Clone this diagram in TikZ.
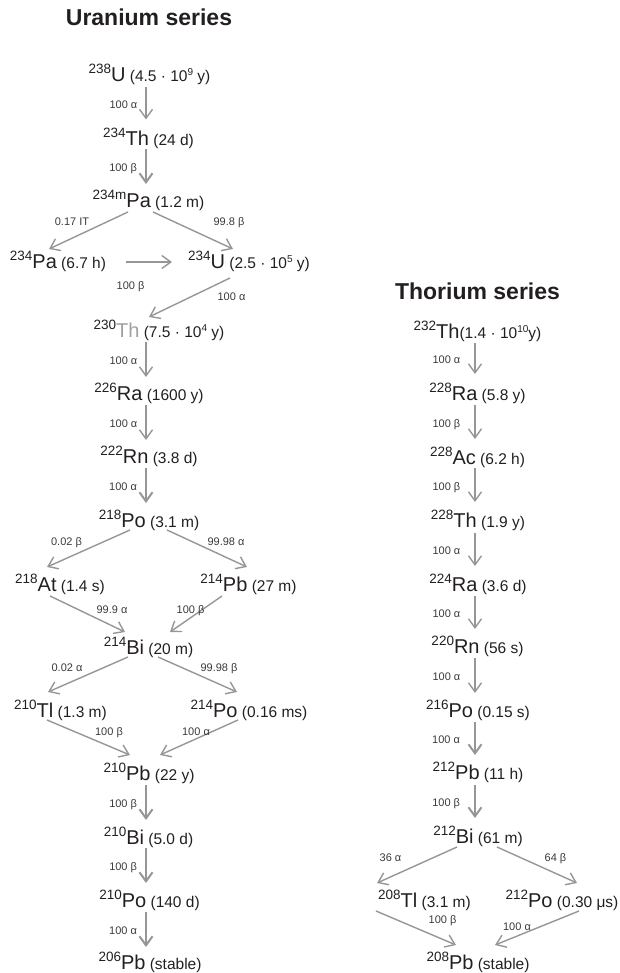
\documentclass[tikz,border=0pt]{standalone}
\usepackage{fontspec}
\setmainfont{Liberation Sans}
\usetikzlibrary{arrows.meta,calc}
\definecolor{ink}{HTML}{231F20}
\definecolor{arrowgray}{HTML}{969696}
\definecolor{labelink}{HTML}{3A3A3A}
\definecolor{lightth}{HTML}{A0A0A0}
\newcommand\nuc[3]{\raisebox{8pt}{\fontsize{13.5}{13.5}\selectfont #1}{\fontsize{20}{20}\selectfont #2}{\fontsize{15.5}{15.5}\selectfont #3}}
\newcommand\pw[1]{\raisebox{6pt}{\fontsize{10}{10}\selectfont #1}}
\tikzset{
  nucl/.style={anchor=base, inner sep=0pt, text=ink},
  ttl/.style={anchor=base, inner sep=0pt, text=ink, font=\bfseries\fontsize{23}{23}\selectfont},
  arr/.style={draw=arrowgray, line width=1.4pt, -{Straight Barb[length=9pt,width=13pt]}},
  heavy/.style={line width=2pt},
  lbl/.style={inner sep=0pt, text=labelink, font=\fontsize{11}{11}\selectfont, text height=8pt, text depth=0pt},
  lblU/.style={lbl, midway, left=8pt, yshift=-1pt},
  lblT/.style={lbl, midway, left=14pt, yshift=-1pt}
}
\begin{document}
\begin{tikzpicture}[x=1pt,y=-1pt]
\useasboundingbox (0,0) rectangle (620,973);
\coordinate (ucol) at (146,0);
\coordinate (tcol) at (475,0);

% titles
\node[ttl] (tu) at (149,26) {Uranium series};
\node[ttl] (tt) at (477.5,299) {Thorium series};

% uranium series nodes
\node[nucl] (u238)   at (149.5,82)  {\nuc{238}{U}{~(4.5 · 10\pw{9} y)}};
\node[nucl] (th234)  at (148.5,145.5) {\nuc{234}{Th}{~(24 d)}};
\node[nucl] (pa234m) at (148.5,208) {\nuc{234m}{Pa}{~(1.2 m)}};
\node[nucl] (pa234)  at (58,269)    {\nuc{234}{Pa}{~(6.7 h)}};
\node[nucl] (u234)   at (249,269)   {\nuc{234}{U}{~(2.5 · 10\pw{5} y)}};
\node[nucl] (th230)  at (159,337)   {\nuc{230}{\textcolor{lightth}{Th}}{~(7.5 · 10\pw{4} y)}};
\node[nucl] (ra226)  at (149,400)   {\nuc{226}{Ra}{~(1600 y)}};
\node[nucl] (rn222)  at (149,463)   {\nuc{222}{Rn}{~(3.8 d)}};
\node[nucl] (po218)  at (149,527)   {\nuc{218}{Po}{~(3.1 m)}};
\node[nucl] (at218)  at (60,591)    {\nuc{218}{At}{~(1.4 s)}};
\node[nucl] (pb214)  at (248.5,591) {\nuc{214}{Pb}{~(27 m)}};
\node[nucl] (bi214)  at (148.5,654) {\nuc{214}{Bi}{~(20 m)}};
\node[nucl] (tl210)  at (60.5,717)  {\nuc{210}{Tl}{~(1.3 m)}};
\node[nucl] (po214)  at (249,717)   {\nuc{214}{Po}{~(0.16 ms)}};
\node[nucl] (pb210)  at (149,780)   {\nuc{210}{Pb}{~(22 y)}};
\node[nucl] (bi210)  at (148.5,844) {\nuc{210}{Bi}{~(5.0 d)}};
\node[nucl] (po210)  at (149.5,907) {\nuc{210}{Po}{~(140 d)}};
\node[nucl] (pb206)  at (150,969)   {\nuc{206}{Pb}{~(stable)}};

% thorium series nodes
\node[nucl] (th232) at (477.5,338) {\nuc{232}{Th}{(1.4 · 10\pw{10}y)}};
\node[nucl] (ra228) at (477.5,400) {\nuc{228}{Ra}{~(5.8 y)}};
\node[nucl] (ac228) at (477.5,464) {\nuc{228}{Ac}{~(6.2 h)}};
\node[nucl] (th228) at (478,527)   {\nuc{228}{Th}{~(1.9 y)}};
\node[nucl] (ra224) at (478,591)   {\nuc{224}{Ra}{~(3.6 d)}};
\node[nucl] (rn220) at (477.5,653) {\nuc{220}{Rn}{~(56 s)}};
\node[nucl] (po216) at (478,717)   {\nuc{216}{Po}{~(0.15 s)}};
\node[nucl] (pb212) at (478,779)   {\nuc{212}{Pb}{~(11 h)}};
\node[nucl] (bi212) at (478,843)   {\nuc{212}{Bi}{~(61 m)}};
\node[nucl] (tl208) at (424.5,907) {\nuc{208}{Tl}{~(3.1 m)}};
\node[nucl] (po212) at (562,907)   {\nuc{212}{Po}{~(0.30 μs)}};
\node[nucl] (pb208) at (478,969)   {\nuc{208}{Pb}{~(stable)}};

% uranium vertical arrows
\draw[arr] ($(u238.base -| ucol)+(0,5)$) -- ($(th234.base -| ucol)+(0,-26)$) node[lblU]{100 α};
\draw[arr,heavy] ($(th234.base -| ucol)+(0,4)$) -- ($(pa234m.base -| ucol)+(0,-24)$) node[lblU]{100 β};
\draw[arr] ($(th230.base -| ucol)+(0,5)$) -- ($(ra226.base -| ucol)+(0,-23)$) node[lblU]{100 α};
\draw[arr] ($(ra226.base -| ucol)+(0,5)$) -- ($(rn222.base -| ucol)+(0,-23)$) node[lblU]{100 α};
\draw[arr,heavy] ($(rn222.base -| ucol)+(0,5)$) -- ($(po218.base -| ucol)+(0,-24)$) node[lblU]{100 α};
\draw[arr,heavy] ($(pb210.base -| ucol)+(0,5)$) -- ($(bi210.base -| ucol)+(0,-24)$) node[lblU]{100 β};
\draw[arr,heavy] ($(bi210.base -| ucol)+(0,4)$) -- ($(po210.base -| ucol)+(0,-24)$) node[lblU]{100 β};
\draw[arr,heavy] ($(po210.base -| ucol)+(0,5)$) -- ($(pb206.base -| ucol)+(0,-22)$) node[lblU]{100 α};

% uranium branching arrows
\draw[arr] ($(pa234m.base)+(-20.5,4)$) -- ($(pa234.base)+(-9,-20)$) node[lbl] at (72,222) {0.17 IT};
\draw[arr] ($(pa234m.base)+(4.5,4)$) -- ($(u234.base)+(-16,-20)$) node[lbl] at (229,222) {99.8 β};
\draw[arr] ($(pa234.base)+(68,-7)$) -- ($(u234.base)+(-77,-7)$) node[lbl] at (130.5,285) {100 β};
\draw[arr] ($(u234.base)+(-19,9)$) -- ($(th230.base)+(-10,-20)$) node[lbl] at (231.5,296) {100 α};
\draw[arr] ($(po218.base)+(-19,3)$) -- ($(at218.base)+(-13,-24)$) node[lbl] at (66.5,541) {0.02 β};
\draw[arr] ($(po218.base)+(18,3)$) -- ($(pb214.base)+(-1.5,-24)$) node[lbl] at (226,541) {99.98 α};
\draw[arr] ($(at218.base)+(-10,5)$) -- ($(bi214.base)+(-23.5,-22)$) node[lbl] at (112,609) {99.9 α};
\draw[arr] ($(pb214.base)+(-26.5,5)$) -- ($(bi214.base)+(21.5,-22)$) node[lbl] at (190.5,609) {100 β};
\draw[arr] ($(bi214.base)+(-20.5,3)$) -- ($(tl210.base)+(-12.5,-25)$) node[lbl] at (67,667) {0.02 α};
\draw[arr] ($(bi214.base)+(9.5,3)$) -- ($(po214.base)+(-12,-25)$) node[lbl] at (219,667) {99.98 β};
\draw[arr] ($(tl210.base)+(-13.5,3)$) -- ($(pb210.base)+(-19,-25)$) node[lbl] at (109,731) {100 β};
\draw[arr] ($(po214.base)+(-11,3)$) -- ($(pb210.base)+(11,-25)$) node[lbl] at (196,731) {100 α};

% thorium vertical arrows
\draw[arr] ($(th232.base -| tcol)+(0,5)$) -- ($(ra228.base -| tcol)+(0,-26)$) node[lblT]{100 α};
\draw[arr] ($(ra228.base -| tcol)+(0,5)$) -- ($(ac228.base -| tcol)+(0,-25)$) node[lblT]{100 β};
\draw[arr] ($(ac228.base -| tcol)+(0,4)$) -- ($(th228.base -| tcol)+(0,-25)$) node[lblT]{100 β};
\draw[arr] ($(th228.base -| tcol)+(0,6)$) -- ($(ra224.base -| tcol)+(0,-25)$) node[lblT]{100 α};
\draw[arr] ($(ra224.base -| tcol)+(0,5)$) -- ($(rn220.base -| tcol)+(0,-24)$) node[lblT]{100 α};
\draw[arr] ($(rn220.base -| tcol)+(0,5)$) -- ($(po216.base -| tcol)+(0,-24)$) node[lblT]{100 α};
\draw[arr,heavy] ($(po216.base -| tcol)+(0,5)$) -- ($(pb212.base -| tcol)+(0,-24)$) node[lblT]{100 α};
\draw[arr,heavy] ($(pb212.base -| tcol)+(0,6)$) -- ($(bi212.base -| tcol)+(0,-25)$) node[lblT]{100 β};

% thorium branching arrows
\draw[arr] ($(bi212.base)+(-21,4)$) -- ($(tl208.base)+(-47.5,-24)$) node[lbl] at (390.5,857) {36 α};
\draw[arr] ($(bi212.base)+(19,4)$) -- ($(po212.base)+(15,-24)$) node[lbl] at (555.5,857) {64 β};
\draw[arr] ($(tl208.base)+(-48.5,4)$) -- ($(pb208.base)+(-22,-24)$) node[lbl] at (442.5,919) {100 β};
\draw[arr] ($(po212.base)+(17,4)$) -- ($(pb208.base)+(17,-24)$) node[lbl] at (517,926) {100 α};
\end{tikzpicture}
\end{document}
